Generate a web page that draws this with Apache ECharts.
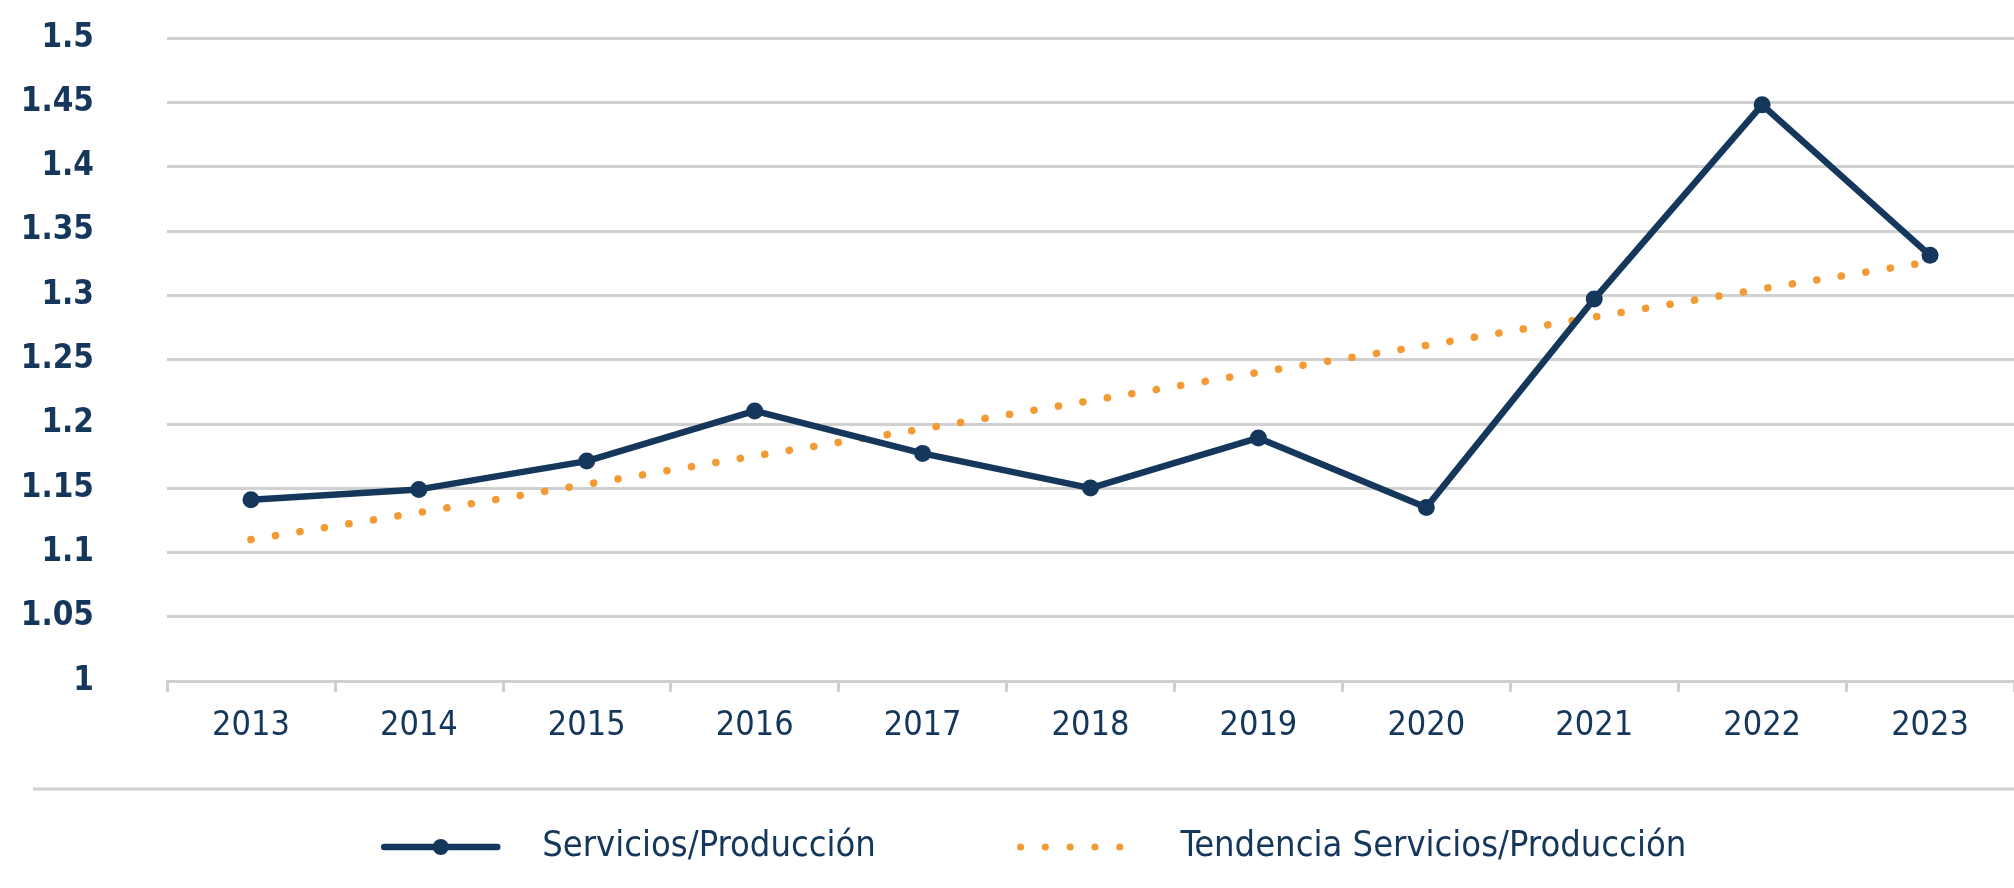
<!DOCTYPE html>
<html>
<head>
<meta charset="utf-8">
<script src="https://cdn.jsdelivr.net/npm/echarts@6/dist/echarts.min.js"></script>
<style>
  html, body { margin: 0; padding: 0; background: #fff; }
  #chart { width: 2014px; height: 888px; }
</style>
</head>
<body>
<div id="chart"></div>
<script>
// datos
const years = ['2013', '2014', '2015', '2016', '2017', '2018', '2019', '2020', '2021', '2022', '2023'];
const servicios = [1.141, 1.149, 1.171, 1.210, 1.177, 1.150, 1.189, 1.135, 1.297, 1.448, 1.331];
const tendencia = [1.110, 1.131, 1.153, 1.175, 1.196, 1.218, 1.240, 1.261, 1.283, 1.305, 1.326];
const seriesNames = ['Servicios/Producción', 'Tendencia Servicios/Producción'];

const navy = '#15375c';
const orange = '#f39a33';
const font = '"DejaVu Sans Condensed", "DejaVu Sans", sans-serif';
const dots = [0.1, 24.7];

const myChart = echarts.init(document.getElementById('chart'));
const legendText = {
  fontFamily: font,
  fontSize: 36,
  color: navy
};
const option = {
  backgroundColor: '#fff',
  animation: false,
  grid: {
    left: 167,
    right: -19,
    top: 38,
    bottom: 207
  },
  legend: [{
    left: 376,
    top: 824,
    itemWidth: 113,
    itemHeight: 20,
    textStyle: Object.assign({ padding: [0, 0, 0, 40] }, legendText),
    data: [{
      name: seriesNames[0],
      lineStyle: { width: 6.5, color: navy, cap: 'round' },
      itemStyle: { color: navy }
    }]
  }, {
    left: 1012,
    top: 824,
    itemWidth: 110,
    itemHeight: 20,
    textStyle: Object.assign({ padding: [0, 0, 0, 45] }, legendText),
    data: [{
      name: seriesNames[1],
      lineStyle: { width: 7, color: orange, type: dots, cap: 'round' },
      itemStyle: { color: orange, opacity: 0 }
    }]
  }],
  graphic: [{
    type: 'line',
    shape: { x1: 33, y1: 789, x2: 2014, y2: 789 },
    style: { stroke: '#cfcfcf', lineWidth: 3 }
  }],
  xAxis: {
    type: 'category',
    data: years,
    boundaryGap: true,
    axisLine: { lineStyle: { color: '#cfcfcf', width: 3 } },
    axisTick: { show: true, length: 11, lineStyle: { color: '#cfcfcf', width: 3 } },
    axisLabel: {
      margin: 28,
      fontFamily: font,
      fontSize: 34,
      color: navy
    }
  },
  yAxis: {
    type: 'value',
    min: 1,
    max: 1.5,
    interval: 0.05,
    axisLine: { show: false },
    axisTick: { show: false },
    axisLabel: {
      margin: 73,
      fontFamily: font,
      fontSize: 33,
      fontWeight: 'bold',
      color: navy,
      formatter: (v) => String(Math.round(v * 100) / 100)
    },
    splitLine: { lineStyle: { color: '#d0d0d0', width: 3 } }
  },
  series: [{
    name: seriesNames[0],
    type: 'line',
    data: servicios,
    symbol: 'circle',
    symbolSize: 17,
    itemStyle: { color: navy },
    lineStyle: { color: navy, width: 6.5 },
    z: 3
  }, {
    name: seriesNames[1],
    type: 'line',
    data: tendencia,
    symbol: 'none',
    itemStyle: { color: orange },
    lineStyle: { color: orange, width: 7.5, type: dots, cap: 'round' },
    z: 2
  }]
};

myChart.setOption(option);
</script>
</body>
</html>
